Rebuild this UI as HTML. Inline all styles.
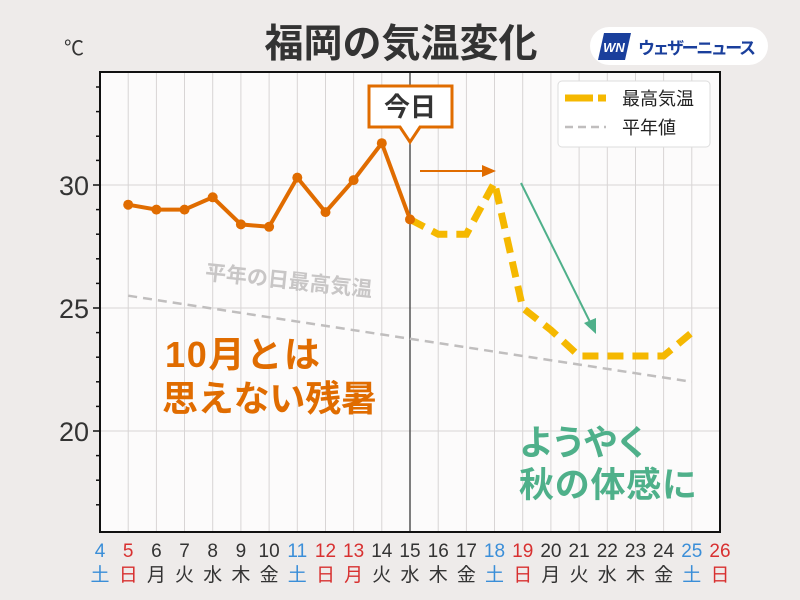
<!DOCTYPE html>
<html><head><meta charset="utf-8"><style>
body{margin:0;background:#eeebea;}
svg{display:block;font-family:"Liberation Sans","Noto Sans CJK JP",sans-serif;}
</style></head><body>
<svg width="800" height="600" viewBox="0 0 800 600">
<rect width="800" height="600" fill="#eeebea"/>
<text x="401" y="57" text-anchor="middle" font-size="39" font-weight="bold" fill="#333">福岡の気温変化</text>
<rect x="590" y="27" width="178" height="38" rx="19" fill="#fff"/>
<polygon points="604,33 631,33 625,60 598,60" fill="#1a3f9c"/>
<text x="614" y="52" text-anchor="middle" font-size="13" font-weight="bold" font-style="italic" fill="#fff">WN</text>
<text x="638" y="54" font-size="17" font-weight="bold" fill="#1a3f9c" textLength="118">ウェザーニュース</text>
<text x="64" y="55" font-size="20" fill="#333">℃</text>
<rect x="100" y="72" width="620" height="460" fill="#fcfbfb"/>
<g stroke="#d8d5d5" stroke-width="1">
<line x1="128.2" y1="72" x2="128.2" y2="532"/><line x1="156.4" y1="72" x2="156.4" y2="532"/><line x1="184.5" y1="72" x2="184.5" y2="532"/><line x1="212.7" y1="72" x2="212.7" y2="532"/><line x1="240.9" y1="72" x2="240.9" y2="532"/><line x1="269.1" y1="72" x2="269.1" y2="532"/><line x1="297.3" y1="72" x2="297.3" y2="532"/><line x1="325.5" y1="72" x2="325.5" y2="532"/><line x1="353.6" y1="72" x2="353.6" y2="532"/><line x1="381.8" y1="72" x2="381.8" y2="532"/><line x1="438.2" y1="72" x2="438.2" y2="532"/><line x1="466.4" y1="72" x2="466.4" y2="532"/><line x1="494.5" y1="72" x2="494.5" y2="532"/><line x1="522.7" y1="72" x2="522.7" y2="532"/><line x1="550.9" y1="72" x2="550.9" y2="532"/><line x1="579.1" y1="72" x2="579.1" y2="532"/><line x1="607.3" y1="72" x2="607.3" y2="532"/><line x1="635.5" y1="72" x2="635.5" y2="532"/><line x1="663.6" y1="72" x2="663.6" y2="532"/><line x1="691.8" y1="72" x2="691.8" y2="532"/>
<line x1="100" y1="185" x2="720" y2="185"/><line x1="100" y1="308" x2="720" y2="308"/><line x1="100" y1="431" x2="720" y2="431"/>
</g>
<line x1="410" y1="72" x2="410" y2="532" stroke="#555" stroke-width="1.5"/>
<rect x="100" y="72" width="620" height="460" fill="none" stroke="#111" stroke-width="2"/>
<g stroke="#111" stroke-width="1.5">
<line x1="93" y1="185" x2="100" y2="185"/><line x1="93" y1="308" x2="100" y2="308"/><line x1="93" y1="431" x2="100" y2="431"/>
<line x1="96" y1="87" x2="100" y2="87"/><line x1="96" y1="111.6" x2="100" y2="111.6"/><line x1="96" y1="136.2" x2="100" y2="136.2"/><line x1="96" y1="160.4" x2="100" y2="160.4"/>
<line x1="96" y1="209.6" x2="100" y2="209.6"/><line x1="96" y1="234.2" x2="100" y2="234.2"/><line x1="96" y1="258.8" x2="100" y2="258.8"/><line x1="96" y1="283.4" x2="100" y2="283.4"/>
<line x1="96" y1="332.6" x2="100" y2="332.6"/><line x1="96" y1="357.2" x2="100" y2="357.2"/><line x1="96" y1="381.8" x2="100" y2="381.8"/><line x1="96" y1="406.4" x2="100" y2="406.4"/>
<line x1="96" y1="455.6" x2="100" y2="455.6"/><line x1="96" y1="480.2" x2="100" y2="480.2"/><line x1="96" y1="504.8" x2="100" y2="504.8"/>
</g>
<g font-size="27" fill="#333" text-anchor="end"><text x="89" y="195">30</text><text x="89" y="318">25</text><text x="89" y="441">20</text></g>
<polyline points="128.2,295.7 691.8,381.8" stroke="#c0bebe" stroke-width="2.5" stroke-dasharray="9,6" fill="none"/>
<text x="288" y="288" text-anchor="middle" font-size="21" font-weight="bold" fill="#c8c6c6" transform="rotate(6 288 288)">平年の日最高気温</text>
<polyline points="410,219.4 438.2,234.2 466.4,234.2 494.5,182.5 522.7,308 550.9,330 579.1,356 663.6,356 691.8,332.6" stroke="#f5b800" stroke-width="7" stroke-dasharray="16,9" fill="none"/>
<polyline points="128.2,204.7 156.4,209.6 184.5,209.6 212.7,197.3 240.9,224.4 269.1,226.8 297.3,177.6 325.5,212.1 353.6,180.1 381.8,143.2 410,219.4" stroke="#e06c00" stroke-width="4" fill="none"/>
<g fill="#e06c00"><circle cx="128.2" cy="204.7" r="5"/><circle cx="156.4" cy="209.6" r="5"/><circle cx="184.5" cy="209.6" r="5"/><circle cx="212.7" cy="197.3" r="5"/><circle cx="240.9" cy="224.4" r="5"/><circle cx="269.1" cy="226.8" r="5"/><circle cx="297.3" cy="177.6" r="5"/><circle cx="325.5" cy="212.1" r="5"/><circle cx="353.6" cy="180.1" r="5"/><circle cx="381.8" cy="143.2" r="5"/><circle cx="410" cy="219.4" r="5"/></g>
<path d="M369,86 H452 V127 H420 L410,142 L400,127 H369 Z" fill="#fff" stroke="#e06c00" stroke-width="3"/>
<text x="410" y="116" text-anchor="middle" font-size="26" font-weight="bold" fill="#333">今日</text>
<line x1="420" y1="171" x2="485" y2="171" stroke="#e06c00" stroke-width="2"/>
<polygon points="496,171 482,165 482,177" fill="#e06c00"/>
<line x1="521" y1="183" x2="590" y2="322" stroke="#4fb08a" stroke-width="2"/>
<polygon points="596,334 584,323 596,318" fill="#4fb08a"/>
<rect x="558" y="81" width="152" height="66" rx="4" fill="#fff" stroke="#ddd"/>
<line x1="565" y1="98" x2="593" y2="98" stroke="#f5b800" stroke-width="7"/><line x1="598" y1="98" x2="606" y2="98" stroke="#f5b800" stroke-width="7"/>
<line x1="565" y1="127" x2="606" y2="127" stroke="#c0bebe" stroke-width="2.5" stroke-dasharray="8,5"/>
<text x="622" y="105" font-size="18" fill="#222">最高気温</text>
<text x="622" y="134" font-size="18" fill="#222">平年値</text>
<g font-size="36" font-weight="bold" fill="#e06c00"><text x="165" y="367" textLength="155">10月とは</text><text x="162" y="411" textLength="215">思えない残暑</text></g>
<g font-size="35" font-weight="bold" fill="#4fb08a"><text x="519" y="455" textLength="131">ようやく</text><text x="519" y="497" textLength="178">秋の体感に</text></g>
<g font-size="19" text-anchor="middle">
<text x="100" y="557" fill="#3a8ed8">4</text><text x="100" y="581" fill="#3a8ed8">土</text>
<text x="128.2" y="557" fill="#d83030">5</text><text x="128.2" y="581" fill="#d83030">日</text>
<text x="156.4" y="557" fill="#333">6</text><text x="156.4" y="581" fill="#333">月</text>
<text x="184.5" y="557" fill="#333">7</text><text x="184.5" y="581" fill="#333">火</text>
<text x="212.7" y="557" fill="#333">8</text><text x="212.7" y="581" fill="#333">水</text>
<text x="240.9" y="557" fill="#333">9</text><text x="240.9" y="581" fill="#333">木</text>
<text x="269.1" y="557" fill="#333">10</text><text x="269.1" y="581" fill="#333">金</text>
<text x="297.3" y="557" fill="#3a8ed8">11</text><text x="297.3" y="581" fill="#3a8ed8">土</text>
<text x="325.5" y="557" fill="#d83030">12</text><text x="325.5" y="581" fill="#d83030">日</text>
<text x="353.6" y="557" fill="#d83030">13</text><text x="353.6" y="581" fill="#d83030">月</text>
<text x="381.8" y="557" fill="#333">14</text><text x="381.8" y="581" fill="#333">火</text>
<text x="410" y="557" fill="#333">15</text><text x="410" y="581" fill="#333">水</text>
<text x="438.2" y="557" fill="#333">16</text><text x="438.2" y="581" fill="#333">木</text>
<text x="466.4" y="557" fill="#333">17</text><text x="466.4" y="581" fill="#333">金</text>
<text x="494.5" y="557" fill="#3a8ed8">18</text><text x="494.5" y="581" fill="#3a8ed8">土</text>
<text x="522.7" y="557" fill="#d83030">19</text><text x="522.7" y="581" fill="#d83030">日</text>
<text x="550.9" y="557" fill="#333">20</text><text x="550.9" y="581" fill="#333">月</text>
<text x="579.1" y="557" fill="#333">21</text><text x="579.1" y="581" fill="#333">火</text>
<text x="607.3" y="557" fill="#333">22</text><text x="607.3" y="581" fill="#333">水</text>
<text x="635.5" y="557" fill="#333">23</text><text x="635.5" y="581" fill="#333">木</text>
<text x="663.6" y="557" fill="#333">24</text><text x="663.6" y="581" fill="#333">金</text>
<text x="691.8" y="557" fill="#3a8ed8">25</text><text x="691.8" y="581" fill="#3a8ed8">土</text>
<text x="720" y="557" fill="#d83030">26</text><text x="720" y="581" fill="#d83030">日</text>
</g>
</svg>
</body></html>
